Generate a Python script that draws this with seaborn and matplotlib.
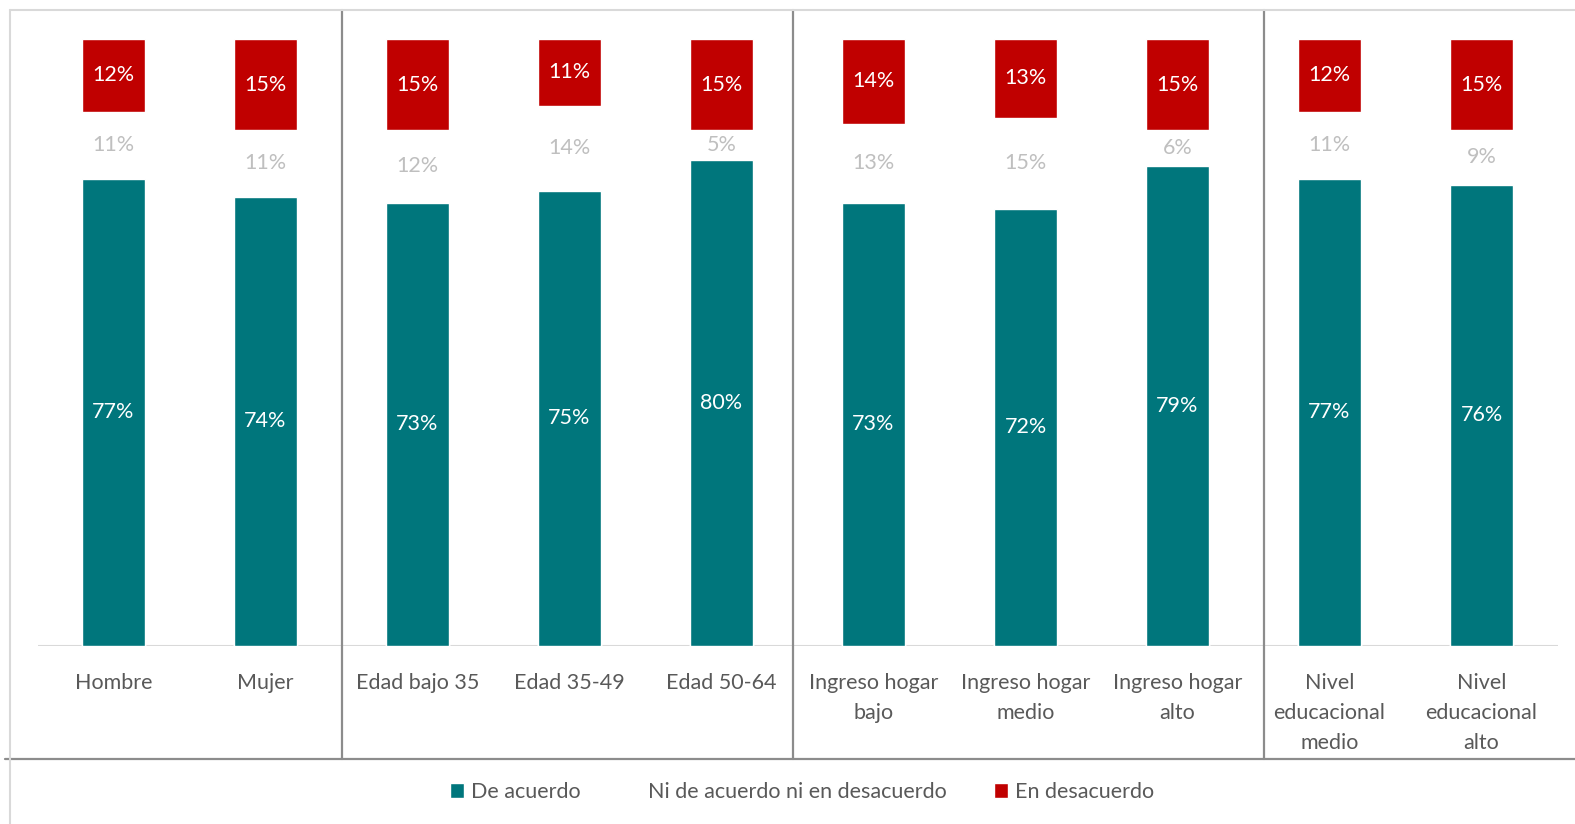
import matplotlib
matplotlib.use("Agg")
import matplotlib.pyplot as plt
from matplotlib.patches import Patch
from matplotlib.lines import Line2D
import seaborn as sns
import pandas as pd

sns.set_style("white")
plt.rcParams['font.family'] = ['Lato', 'DejaVu Sans']

categorias = ["Hombre", "Mujer", "Edad bajo 35", "Edad 35-49", "Edad 50-64",
              "Ingreso hogar\nbajo", "Ingreso hogar\nmedio", "Ingreso hogar\nalto",
              "Nivel\neducacional\nmedio", "Nivel\neducacional\nalto"]
de_acuerdo = [77, 74, 73, 75, 80, 73, 72, 79, 77, 76]
ni_ni = [11, 11, 12, 14, 5, 13, 15, 6, 11, 9]
en_desacuerdo = [12, 15, 15, 11, 15, 14, 13, 15, 12, 15]
series = ["De acuerdo", "Ni de acuerdo ni en desacuerdo", "En desacuerdo"]
separadores = [1.5, 4.47, 7.57]

TEAL = "#00767C"
RED = "#C00000"
GRIS_TXT = "#595959"

W, H = 1575, 824
df = pd.DataFrame({"cat": categorias, "a": de_acuerdo, "n": ni_ni, "d": en_desacuerdo})
df["an"] = df["a"] + df["n"]
df["tot"] = df["an"] + df["d"]

fig = plt.figure(figsize=(W / 100, H / 100), dpi=100)
# plot area: x 37.5..1557.5, y 10..646 (pixels)
ax = fig.add_axes([37.5 / W, 1 - 646 / H, (1557.5 - 37.5) / W, (646 - 10) / H])

# stacked bars drawn back to front
sns.barplot(data=df, x="cat", y="tot", color=RED, width=0.41, saturation=1, ax=ax)
sns.barplot(data=df, x="cat", y="an", color="white", width=0.41, saturation=1, ax=ax)
sns.barplot(data=df, x="cat", y="a", color=TEAL, width=0.41, saturation=1, ax=ax)

ax.set_xlim(-0.5, len(categorias) - 0.5)
ax.set_ylim(0, 100 * 636 / 607)
ax.axhline(0, color="#D9D9D9", lw=1.5, zorder=0)
for s in ax.spines.values():
    s.set_visible(False)
ax.set_yticks([])
ax.set_xlabel("")
ax.set_ylabel("")
ax.tick_params(axis="x", length=0, pad=19.5, labelsize=15.5, labelcolor=GRIS_TXT)
for t in ax.get_xticklabels():
    t.set_linespacing(1.61)

for i, r in df.iterrows():
    ax.text(i, r["a"] / 2, f"{r['a']}%", ha="center", va="center", color="white", fontsize=15.5)
    ax.text(i, r["a"] + r["n"] / 2, f"{r['n']}%", ha="center", va="center", color="#BFBFBF", fontsize=15.5)
    ax.text(i, r["an"] + r["d"] / 2, f"{r['d']}%", ha="center", va="center", color="white", fontsize=15.5)

# group separators
ybot = (646 - 759) / 636
for x in separadores:
    ax.axvline(x, ymin=ybot, ymax=1, color="#8C8C8C", lw=1.6, clip_on=False)

# frame lines
fig.add_artist(Line2D([5 / W, 1], [1 - 759 / H] * 2, transform=fig.transFigure, color="#8C8C8C", lw=1.6))
fig.add_artist(Line2D([10 / W, 1], [1 - 10 / H] * 2, transform=fig.transFigure, color="#D9D9D9", lw=1.5))
fig.add_artist(Line2D([10 / W] * 2, [0, 1 - 10 / H], transform=fig.transFigure, color="#D9D9D9", lw=1.5))

handles = [Patch(facecolor=TEAL), Patch(facecolor="white", edgecolor="none"), Patch(facecolor=RED)]
fig.legend(handles, series, loc="center", bbox_to_anchor=(802 / W, 1 - 792 / H), ncol=3,
           frameon=False, fontsize=15.5, labelcolor=GRIS_TXT, handlelength=0.65, handleheight=0.65,
           handletextpad=0.3, columnspacing=2.2)

fig.savefig("out.png", dpi=100)
